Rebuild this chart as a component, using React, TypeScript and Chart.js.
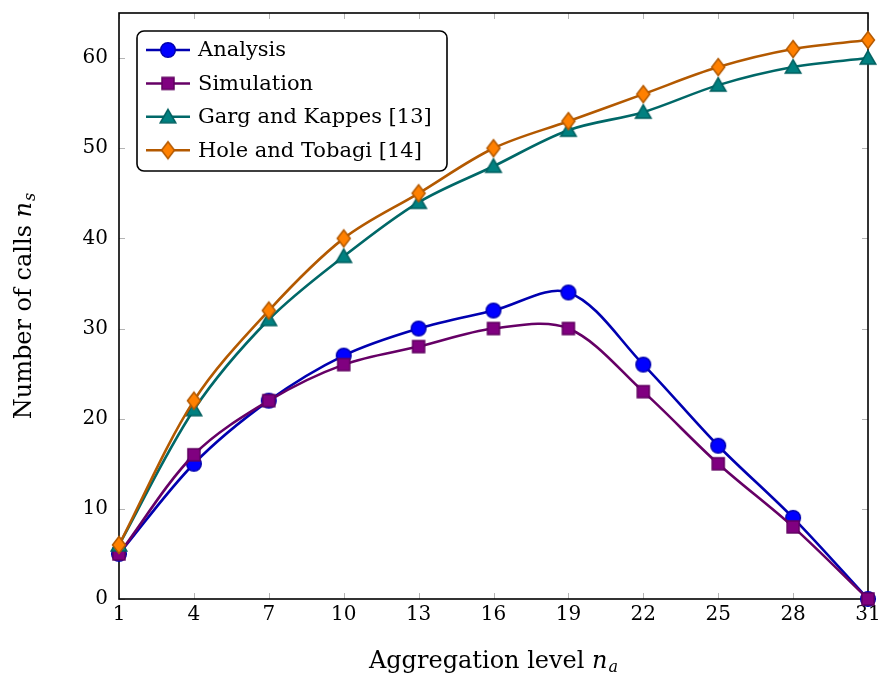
import React, { useEffect, useRef } from "react";
import { Chart, registerables } from "chart.js";

Chart.register(...registerables);

const xValues = [1, 4, 7, 10, 13, 16, 19, 22, 25, 28, 31];
const analysis = [5, 15, 22, 27, 30, 32, 34, 26, 17, 9, 0];
const simulation = [5, 16, 22, 26, 28, 30, 30, 23, 15, 8, 0];
const gargKappes = [6, 21, 31, 38, 44, 48, 52, 54, 57, 59, 60];
const holeTobagi = [6, 22, 32, 40, 45, 50, 53, 56, 59, 61, 62];
const xTicks = [1, 4, 7, 10, 13, 16, 19, 22, 25, 28, 31];
const yTicks = [0, 10, 20, 30, 40, 50, 60];
const seriesLabels = ["Analysis", "Simulation", "Garg and Kappes [13]", "Hole and Tobagi [14]"];

const FONT = "'DejaVu Serif', serif";

function makeMarker(kind: string, fill: string, stroke: string): HTMLCanvasElement {
  const c = document.createElement("canvas");
  const s = 22;
  c.width = s;
  c.height = s;
  const g = c.getContext("2d")!;
  const m = s / 2;
  g.fillStyle = fill;
  g.strokeStyle = stroke;
  g.lineWidth = 1.5;
  g.lineJoin = "miter";
  g.beginPath();
  if (kind === "circle") {
    g.arc(m, m, 7.3, 0, Math.PI * 2);
  } else if (kind === "square") {
    g.rect(m - 6, m - 6, 12, 12);
  } else if (kind === "triangle") {
    const r = 9;
    for (let i = 0; i < 3; i++) {
      const a = -Math.PI / 2 + (i * 2 * Math.PI) / 3;
      const px = m + Math.cos(a) * r;
      const py = m + 1.5 + Math.sin(a) * r;
      if (i === 0) g.moveTo(px, py);
      else g.lineTo(px, py);
    }
    g.closePath();
  } else {
    g.moveTo(m, m - 8.5);
    g.lineTo(m + 6.5, m);
    g.lineTo(m, m + 8.5);
    g.lineTo(m - 6.5, m);
    g.closePath();
  }
  g.fill();
  g.stroke();
  return c;
}

export default function App() {
  const ref = useRef<HTMLCanvasElement | null>(null);

  useEffect(() => {
    const markers = [
      makeMarker("circle", "#0000ff", "#0000b0"),
      makeMarker("square", "#800080", "#600060"),
      makeMarker("triangle", "#008080", "#006060"),
      makeMarker("diamond", "#ff8000", "#b35900"),
    ];
    const lineColors = ["#0000b0", "#660066", "#006868", "#b35900"];
    const values = [analysis, simulation, gargKappes, holeTobagi];

    const framePlugin = {
      id: "frame",
      beforeDatasetsDraw(chart: any) {
        const { ctx, chartArea: a, scales } = chart;
        ctx.save();
        ctx.strokeStyle = "#b4b4b4";
        ctx.lineWidth = 1;
        const tl = 6;
        scales.x.ticks.forEach((t: any) => {
          const px = Math.round(scales.x.getPixelForValue(t.value)) + 0.5;
          ctx.beginPath();
          ctx.moveTo(px, a.bottom);
          ctx.lineTo(px, a.bottom - tl);
          ctx.moveTo(px, a.top);
          ctx.lineTo(px, a.top + tl);
          ctx.stroke();
        });
        scales.y.ticks.forEach((t: any) => {
          const py = Math.round(scales.y.getPixelForValue(t.value)) + 0.5;
          ctx.beginPath();
          ctx.moveTo(a.left, py);
          ctx.lineTo(a.left + tl, py);
          ctx.moveTo(a.right, py);
          ctx.lineTo(a.right - tl, py);
          ctx.stroke();
        });
        ctx.strokeStyle = "#000";
        ctx.lineWidth = 1.6;
        ctx.strokeRect(a.left, a.top, a.right - a.left, a.bottom - a.top);
        ctx.restore();
      },
      afterDraw(chart: any) {
        const { ctx, chartArea: a } = chart;
        ctx.save();
        // legend
        const bx = a.left + 18;
        const by = a.top + 18;
        const bw = 310;
        const bh = 140;
        ctx.beginPath();
        ctx.roundRect(bx, by, bw, bh, 7);
        ctx.fillStyle = "#fff";
        ctx.fill();
        ctx.strokeStyle = "#000";
        ctx.lineWidth = 1.6;
        ctx.stroke();
        ctx.font = `21px ${FONT}`;
        ctx.textBaseline = "middle";
        ctx.textAlign = "left";
        seriesLabels.forEach((lab, i) => {
          const y = by + 19 + i * 33.4;
          ctx.strokeStyle = lineColors[i];
          ctx.lineWidth = 2.5;
          ctx.beginPath();
          ctx.moveTo(bx + 9, y);
          ctx.lineTo(bx + 53, y);
          ctx.stroke();
          const mk = markers[i];
          ctx.drawImage(mk, bx + 31 - mk.width / 2, y - mk.height / 2);
          ctx.fillStyle = "#000";
          ctx.fillText(lab, bx + 61, y + 1);
        });
        // axis titles
        const SZ = 24;
        const SUB = 16;
        const renderTitle = (main: string, sub: string, cx: number, baseY: number) => {
          ctx.font = `${SZ}px ${FONT}`;
          const w1 = ctx.measureText(main).width;
          ctx.font = `italic ${SZ}px ${FONT}`;
          const w2 = ctx.measureText("n").width;
          ctx.font = `italic ${SUB}px ${FONT}`;
          const w3 = ctx.measureText(sub).width;
          const total = w1 + w2 + w3 + 1;
          let x = cx - total / 2;
          ctx.textBaseline = "alphabetic";
          ctx.textAlign = "left";
          ctx.fillStyle = "#000";
          ctx.font = `${SZ}px ${FONT}`;
          ctx.fillText(main, x, baseY);
          x += w1;
          ctx.font = `italic ${SZ}px ${FONT}`;
          ctx.fillText("n", x, baseY);
          x += w2 + 1;
          ctx.font = `italic ${SUB}px ${FONT}`;
          ctx.fillText(sub, x, baseY + 4);
        };
        renderTitle("Aggregation level ", "a", (a.left + a.right) / 2, 668);
        ctx.save();
        ctx.translate(31, (a.top + a.bottom) / 2);
        ctx.rotate(-Math.PI / 2);
        renderTitle("Number of calls ", "s", 0, 0);
        ctx.restore();
        ctx.restore();
      },
    };

    const chart = new Chart(ref.current!, {
      type: "line",
      data: {
        datasets: seriesLabels.map((lab, i) => ({
          label: lab,
          data: xValues.map((x, j) => ({ x, y: values[i][j] })),
          borderColor: lineColors[i],
          backgroundColor: lineColors[i],
          borderWidth: 2.6,
          pointStyle: markers[i],
          pointRadius: 8,
          pointHoverRadius: 8,
          tension: 0.33,
          clip: false as any,
          order: 3 - i,
          fill: false,
        })),
      },
      options: {
        responsive: false,
        animation: false,
        events: [],
        layout: { padding: { left: 0, right: 14, top: 13, bottom: 0 } },
        plugins: { legend: { display: false }, tooltip: { enabled: false } },
        scales: {
          x: {
            type: "linear",
            min: 1,
            max: 31,
            afterBuildTicks: (s: any) => {
              s.ticks = xTicks.map((v) => ({ value: v }));
            },
            afterFit: (s: any) => {
              s.height = 79;
              s.paddingLeft = 0;
              s.paddingRight = 0;
            },
            grid: { display: false, drawTicks: false },
            border: { display: false },
            ticks: { color: "#000", font: { family: FONT, size: 20 }, padding: 4, maxRotation: 0, autoSkip: false },
          },
          y: {
            type: "linear",
            min: 0,
            max: 65,
            afterBuildTicks: (s: any) => {
              s.ticks = yTicks.map((v) => ({ value: v }));
            },
            afterFit: (s: any) => {
              s.width = 119;
              s.paddingTop = 0;
              s.paddingBottom = 0;
            },
            grid: { display: false, drawTicks: false },
            border: { display: false },
            ticks: { color: "#000", font: { family: FONT, size: 20 }, padding: 11 },
          },
        },
      },
      plugins: [framePlugin],
    });
    return () => chart.destroy();
  }, []);

  return (
    <div style={{ position: "absolute", left: 0, top: 0, width: 882, height: 678, background: "#fff" }}>
      <canvas ref={ref} width={882} height={678} style={{ display: "block" }} />
    </div>
  );
}
